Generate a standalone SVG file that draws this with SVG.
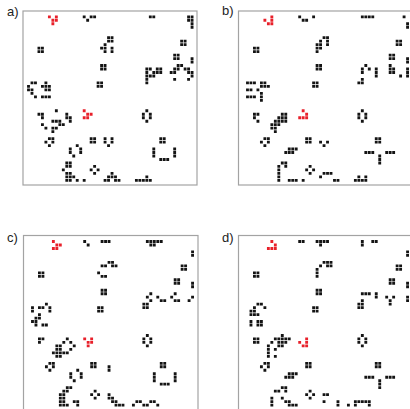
<svg xmlns="http://www.w3.org/2000/svg" width="410" height="409" viewBox="0 0 410 409">
<style>
.frame{fill:none;stroke:#a3a3a3;stroke-width:1.2}
.k{fill:#141414}
.r{fill:#e8202a}
.lbl{font-family:"Liberation Sans",Arial,sans-serif;font-size:13px;fill:#222}
</style>
<defs>
<rect id="c" width=".82" height=".82"/>
</defs>
<rect width="410" height="409" fill="#fff"/>
<text class="lbl" x="7" y="16">a)</text>
<text class="lbl" x="222" y="15">b)</text>
<text class="lbl" x="7" y="242">c)</text>
<text class="lbl" x="222" y="242">d)</text>
<rect class="frame" x="23" y="11" width="174" height="174"/>
<rect class="frame" x="238.5" y="11" width="180" height="174"/>
<rect class="frame" x="23.5" y="235.5" width="174.5" height="180"/>
<rect class="frame" x="238.5" y="235.5" width="180" height="180"/>
<g id="panel-a" transform="translate(23.6,11.9) scale(3.48)">
<path class="k" d="M17 1h.82v.82h-.82zM19 1h.82v.82h-.82zM20 1h.82v.82h-.82zM18 2h.82v.82h-.82zM36 1h.82v.82h-.82zM37 1h.82v.82h-.82zM47 1h.82v.82h-.82zM48 1h.82v.82h-.82zM47 2h.82v.82h-.82zM48 2h.82v.82h-.82zM48 3h.82v.82h-.82zM48 4h.82v.82h-.82zM4 10h.82v.82h-.82zM5 10h.82v.82h-.82zM4 11h.82v.82h-.82zM5 11h.82v.82h-.82zM24 7h.82v.82h-.82zM25 7h.82v.82h-.82zM24 8h.82v.82h-.82zM25 8h.82v.82h-.82zM23 9h.82v.82h-.82zM22 10h.82v.82h-.82zM23 10h.82v.82h-.82zM25 10h.82v.82h-.82zM23 11h.82v.82h-.82zM25 11h.82v.82h-.82zM45 8h.82v.82h-.82zM46 8h.82v.82h-.82zM45 9h.82v.82h-.82zM46 9h.82v.82h-.82zM43 12h.82v.82h-.82zM44 12h.82v.82h-.82zM43 13h.82v.82h-.82zM44 13h.82v.82h-.82zM48 13h.82v.82h-.82zM48 14h.82v.82h-.82zM22 15h.82v.82h-.82zM23 15h.82v.82h-.82zM22 16h.82v.82h-.82zM23 16h.82v.82h-.82zM35 16h.82v.82h-.82zM36 16h.82v.82h-.82zM38 16h.82v.82h-.82zM39 16h.82v.82h-.82zM35 17h.82v.82h-.82zM37 17h.82v.82h-.82zM38 17h.82v.82h-.82zM39 17h.82v.82h-.82zM35 18h.82v.82h-.82zM36 18h.82v.82h-.82zM37 18h.82v.82h-.82zM35 19h.82v.82h-.82zM35 20h.82v.82h-.82zM44 15h.82v.82h-.82zM45 15h.82v.82h-.82zM43 16h.82v.82h-.82zM44 16h.82v.82h-.82zM46 16h.82v.82h-.82zM47 16h.82v.82h-.82zM42 17h.82v.82h-.82zM43 17h.82v.82h-.82zM47 17h.82v.82h-.82zM48 17h.82v.82h-.82zM48 18h.82v.82h-.82zM43 19h.82v.82h-.82zM47 19h.82v.82h-.82zM21 20h.82v.82h-.82zM22 20h.82v.82h-.82zM21 21h.82v.82h-.82zM22 21h.82v.82h-.82zM2 20h.82v.82h-.82zM3 20h.82v.82h-.82zM6 20h.82v.82h-.82zM1 21h.82v.82h-.82zM5 21h.82v.82h-.82zM6 21h.82v.82h-.82zM7 21h.82v.82h-.82zM1 22h.82v.82h-.82zM2 22h.82v.82h-.82zM6 22h.82v.82h-.82zM7 22h.82v.82h-.82zM2 23h.82v.82h-.82zM3 24h.82v.82h-.82zM5 24h.82v.82h-.82zM6 24h.82v.82h-.82zM7 24h.82v.82h-.82zM9 28h.82v.82h-.82zM4 29h.82v.82h-.82zM5 29h.82v.82h-.82zM12 29h.82v.82h-.82zM5 30h.82v.82h-.82zM12 30h.82v.82h-.82zM13 30h.82v.82h-.82zM8 31h.82v.82h-.82zM9 31h.82v.82h-.82zM10 31h.82v.82h-.82zM13 31h.82v.82h-.82zM5 32h.82v.82h-.82zM10 32h.82v.82h-.82zM11 32h.82v.82h-.82zM6 33h.82v.82h-.82zM8 33h.82v.82h-.82zM9 33h.82v.82h-.82zM8 34h.82v.82h-.82zM35 28h.82v.82h-.82zM34 29h.82v.82h-.82zM36 29h.82v.82h-.82zM34 30h.82v.82h-.82zM36 30h.82v.82h-.82zM35 31h.82v.82h-.82zM39 36h.82v.82h-.82zM40 36h.82v.82h-.82zM39 37h.82v.82h-.82zM40 37h.82v.82h-.82zM37 39h.82v.82h-.82zM37 40h.82v.82h-.82zM37 41h.82v.82h-.82zM43 39h.82v.82h-.82zM43 40h.82v.82h-.82zM43 41h.82v.82h-.82zM39 42h.82v.82h-.82zM40 42h.82v.82h-.82zM41 42h.82v.82h-.82zM7 36h.82v.82h-.82zM8 36h.82v.82h-.82zM6 37h.82v.82h-.82zM8 37h.82v.82h-.82zM7 38h.82v.82h-.82zM15 38h.82v.82h-.82zM13 39h.82v.82h-.82zM16 39h.82v.82h-.82zM13 40h.82v.82h-.82zM16 40h.82v.82h-.82zM14 41h.82v.82h-.82zM19 36h.82v.82h-.82zM20 36h.82v.82h-.82zM19 37h.82v.82h-.82zM20 37h.82v.82h-.82zM23 36h.82v.82h-.82zM25 36h.82v.82h-.82zM23 37h.82v.82h-.82zM25 37h.82v.82h-.82zM24 38h.82v.82h-.82zM12 43h.82v.82h-.82zM13 43h.82v.82h-.82zM12 44h.82v.82h-.82zM13 44h.82v.82h-.82zM11 45h.82v.82h-.82zM12 46h.82v.82h-.82zM13 46h.82v.82h-.82zM12 47h.82v.82h-.82zM13 47h.82v.82h-.82zM14 47h.82v.82h-.82zM12 48h.82v.82h-.82zM13 48h.82v.82h-.82zM15 48h.82v.82h-.82zM17 48h.82v.82h-.82zM20 44h.82v.82h-.82zM19 45h.82v.82h-.82zM21 45h.82v.82h-.82zM20 46h.82v.82h-.82zM25 46h.82v.82h-.82zM24 47h.82v.82h-.82zM25 47h.82v.82h-.82zM26 47h.82v.82h-.82zM23 48h.82v.82h-.82zM24 48h.82v.82h-.82zM26 48h.82v.82h-.82zM27 48h.82v.82h-.82zM35 47h.82v.82h-.82zM32 48h.82v.82h-.82zM33 48h.82v.82h-.82zM34 48h.82v.82h-.82zM35 48h.82v.82h-.82zM36 48h.82v.82h-.82z"/>
<path class="r" d="M7 1h.82v.82h-.82zM9 1h.82v.82h-.82zM8 2h.82v.82h-.82zM9 2h.82v.82h-.82zM8 3h.82v.82h-.82zM17 28h.82v.82h-.82zM18 29h.82v.82h-.82zM19 29h.82v.82h-.82zM17 30h.82v.82h-.82zM18 30h.82v.82h-.82z"/>
</g>
<g id="panel-b" transform="translate(239.1,11.9) scale(3.48)">
<path class="k" d="M17 1h.82v.82h-.82zM18 2h.82v.82h-.82zM19 2h.82v.82h-.82zM21 1h.82v.82h-.82zM35 1h.82v.82h-.82zM36 1h.82v.82h-.82zM37 1h.82v.82h-.82zM38 1h.82v.82h-.82zM47 1h.82v.82h-.82zM48 3h.82v.82h-.82zM48 4h.82v.82h-.82zM4 10h.82v.82h-.82zM5 10h.82v.82h-.82zM4 11h.82v.82h-.82zM5 11h.82v.82h-.82zM24 7h.82v.82h-.82zM25 7h.82v.82h-.82zM23 8h.82v.82h-.82zM25 8h.82v.82h-.82zM22 9h.82v.82h-.82zM23 9h.82v.82h-.82zM25 9h.82v.82h-.82zM22 10h.82v.82h-.82zM23 10h.82v.82h-.82zM22 11h.82v.82h-.82zM45 8h.82v.82h-.82zM46 8h.82v.82h-.82zM45 9h.82v.82h-.82zM46 9h.82v.82h-.82zM43 12h.82v.82h-.82zM44 12h.82v.82h-.82zM43 13h.82v.82h-.82zM44 13h.82v.82h-.82zM48 13h.82v.82h-.82zM48 14h.82v.82h-.82zM22 15h.82v.82h-.82zM23 15h.82v.82h-.82zM22 16h.82v.82h-.82zM23 16h.82v.82h-.82zM21 20h.82v.82h-.82zM22 20h.82v.82h-.82zM21 21h.82v.82h-.82zM22 21h.82v.82h-.82zM36 15h.82v.82h-.82zM35 16h.82v.82h-.82zM37 16h.82v.82h-.82zM35 17h.82v.82h-.82zM39 16h.82v.82h-.82zM39 17h.82v.82h-.82zM39 18h.82v.82h-.82zM35 19h.82v.82h-.82zM34 20h.82v.82h-.82zM35 20h.82v.82h-.82zM43 15h.82v.82h-.82zM43 16h.82v.82h-.82zM44 16h.82v.82h-.82zM43 17h.82v.82h-.82zM44 17h.82v.82h-.82zM46 18h.82v.82h-.82zM48 16h.82v.82h-.82zM48 17h.82v.82h-.82zM48 18h.82v.82h-.82zM2 20h.82v.82h-.82zM3 20h.82v.82h-.82zM4 20h.82v.82h-.82zM6 20h.82v.82h-.82zM7 20h.82v.82h-.82zM6 21h.82v.82h-.82zM7 21h.82v.82h-.82zM8 21h.82v.82h-.82zM2 22h.82v.82h-.82zM3 22h.82v.82h-.82zM5 22h.82v.82h-.82zM6 23h.82v.82h-.82zM2 24h.82v.82h-.82zM3 24h.82v.82h-.82zM4 24h.82v.82h-.82zM6 24h.82v.82h-.82zM6 25h.82v.82h-.82zM4 29h.82v.82h-.82zM5 29h.82v.82h-.82zM4 30h.82v.82h-.82zM5 31h.82v.82h-.82zM12 29h.82v.82h-.82zM13 29h.82v.82h-.82zM11 30h.82v.82h-.82zM12 30h.82v.82h-.82zM13 30h.82v.82h-.82zM10 31h.82v.82h-.82zM11 31h.82v.82h-.82zM12 31h.82v.82h-.82zM13 31h.82v.82h-.82zM9 32h.82v.82h-.82zM10 32h.82v.82h-.82zM11 32h.82v.82h-.82zM9 33h.82v.82h-.82zM10 33h.82v.82h-.82zM10 34h.82v.82h-.82zM35 28h.82v.82h-.82zM34 29h.82v.82h-.82zM36 29h.82v.82h-.82zM34 30h.82v.82h-.82zM36 30h.82v.82h-.82zM35 31h.82v.82h-.82zM39 36h.82v.82h-.82zM40 36h.82v.82h-.82zM39 37h.82v.82h-.82zM40 37h.82v.82h-.82zM36 40h.82v.82h-.82zM37 40h.82v.82h-.82zM38 40h.82v.82h-.82zM42 40h.82v.82h-.82zM43 40h.82v.82h-.82zM44 40h.82v.82h-.82zM40 41h.82v.82h-.82zM40 42h.82v.82h-.82zM40 43h.82v.82h-.82zM7 36h.82v.82h-.82zM8 36h.82v.82h-.82zM6 37h.82v.82h-.82zM8 37h.82v.82h-.82zM7 38h.82v.82h-.82zM14 39h.82v.82h-.82zM15 39h.82v.82h-.82zM16 39h.82v.82h-.82zM13 40h.82v.82h-.82zM14 40h.82v.82h-.82zM15 40h.82v.82h-.82zM19 36h.82v.82h-.82zM20 36h.82v.82h-.82zM19 37h.82v.82h-.82zM20 37h.82v.82h-.82zM23 37h.82v.82h-.82zM25 37h.82v.82h-.82zM24 38h.82v.82h-.82zM12 43h.82v.82h-.82zM13 43h.82v.82h-.82zM11 44h.82v.82h-.82zM13 44h.82v.82h-.82zM11 45h.82v.82h-.82zM11 46h.82v.82h-.82zM11 47h.82v.82h-.82zM11 48h.82v.82h-.82zM14 48h.82v.82h-.82zM15 48h.82v.82h-.82zM16 48h.82v.82h-.82zM18 48h.82v.82h-.82zM20 44h.82v.82h-.82zM19 45h.82v.82h-.82zM21 45h.82v.82h-.82zM20 46h.82v.82h-.82zM24 46h.82v.82h-.82zM25 46h.82v.82h-.82zM26 46h.82v.82h-.82zM23 47h.82v.82h-.82zM27 48h.82v.82h-.82zM28 48h.82v.82h-.82zM34 47h.82v.82h-.82zM36 47h.82v.82h-.82zM33 48h.82v.82h-.82zM34 48h.82v.82h-.82zM35 48h.82v.82h-.82zM36 48h.82v.82h-.82z"/>
<path class="r" d="M9 1h.82v.82h-.82zM7 2h.82v.82h-.82zM9 2h.82v.82h-.82zM8 3h.82v.82h-.82zM9 3h.82v.82h-.82zM18 28h.82v.82h-.82zM19 29h.82v.82h-.82zM17 30h.82v.82h-.82zM18 30h.82v.82h-.82zM19 30h.82v.82h-.82z"/>
</g>
<g id="panel-c" transform="translate(24.1,236.6) scale(3.48)">
<path class="k" d="M17 1h.82v.82h-.82zM18 2h.82v.82h-.82zM22 1h.82v.82h-.82zM23 1h.82v.82h-.82zM24 1h.82v.82h-.82zM35 1h.82v.82h-.82zM36 1h.82v.82h-.82zM37 1h.82v.82h-.82zM38 1h.82v.82h-.82zM39 1h.82v.82h-.82zM36 2h.82v.82h-.82zM37 2h.82v.82h-.82zM48 4h.82v.82h-.82zM48 5h.82v.82h-.82zM4 10h.82v.82h-.82zM5 10h.82v.82h-.82zM4 11h.82v.82h-.82zM5 11h.82v.82h-.82zM24 7h.82v.82h-.82zM25 7h.82v.82h-.82zM22 8h.82v.82h-.82zM23 8h.82v.82h-.82zM25 8h.82v.82h-.82zM26 8h.82v.82h-.82zM21 10h.82v.82h-.82zM22 11h.82v.82h-.82zM23 11h.82v.82h-.82zM45 8h.82v.82h-.82zM46 8h.82v.82h-.82zM45 9h.82v.82h-.82zM46 9h.82v.82h-.82zM43 12h.82v.82h-.82zM44 12h.82v.82h-.82zM43 13h.82v.82h-.82zM44 13h.82v.82h-.82zM48 13h.82v.82h-.82zM48 14h.82v.82h-.82zM22 15h.82v.82h-.82zM23 15h.82v.82h-.82zM22 16h.82v.82h-.82zM23 16h.82v.82h-.82zM21 20h.82v.82h-.82zM22 20h.82v.82h-.82zM21 21h.82v.82h-.82zM22 21h.82v.82h-.82zM36 16h.82v.82h-.82zM35 17h.82v.82h-.82zM36 18h.82v.82h-.82zM38 17h.82v.82h-.82zM39 18h.82v.82h-.82zM40 18h.82v.82h-.82zM43 16h.82v.82h-.82zM42 17h.82v.82h-.82zM43 18h.82v.82h-.82zM44 18h.82v.82h-.82zM48 17h.82v.82h-.82zM47 18h.82v.82h-.82zM34 19h.82v.82h-.82zM35 19h.82v.82h-.82zM34 20h.82v.82h-.82zM35 20h.82v.82h-.82zM6 19h.82v.82h-.82zM2 20h.82v.82h-.82zM4 20h.82v.82h-.82zM5 20h.82v.82h-.82zM7 20h.82v.82h-.82zM2 21h.82v.82h-.82zM7 21h.82v.82h-.82zM4 22h.82v.82h-.82zM3 23h.82v.82h-.82zM4 23h.82v.82h-.82zM2 24h.82v.82h-.82zM3 24h.82v.82h-.82zM3 25h.82v.82h-.82zM5 25h.82v.82h-.82zM6 25h.82v.82h-.82zM4 29h.82v.82h-.82zM5 29h.82v.82h-.82zM4 30h.82v.82h-.82zM12 29h.82v.82h-.82zM11 30h.82v.82h-.82zM13 30h.82v.82h-.82zM9 31h.82v.82h-.82zM10 31h.82v.82h-.82zM14 31h.82v.82h-.82zM9 32h.82v.82h-.82zM10 32h.82v.82h-.82zM13 32h.82v.82h-.82zM8 33h.82v.82h-.82zM9 33h.82v.82h-.82zM10 33h.82v.82h-.82zM11 33h.82v.82h-.82zM12 33h.82v.82h-.82zM9 34h.82v.82h-.82zM10 34h.82v.82h-.82zM35 28h.82v.82h-.82zM34 29h.82v.82h-.82zM36 29h.82v.82h-.82zM34 30h.82v.82h-.82zM36 30h.82v.82h-.82zM35 31h.82v.82h-.82zM39 36h.82v.82h-.82zM40 36h.82v.82h-.82zM39 37h.82v.82h-.82zM40 37h.82v.82h-.82zM37 39h.82v.82h-.82zM37 40h.82v.82h-.82zM37 41h.82v.82h-.82zM43 39h.82v.82h-.82zM43 40h.82v.82h-.82zM43 41h.82v.82h-.82zM39 42h.82v.82h-.82zM40 42h.82v.82h-.82zM41 42h.82v.82h-.82zM7 36h.82v.82h-.82zM8 36h.82v.82h-.82zM6 37h.82v.82h-.82zM8 37h.82v.82h-.82zM7 38h.82v.82h-.82zM15 38h.82v.82h-.82zM13 39h.82v.82h-.82zM16 39h.82v.82h-.82zM13 40h.82v.82h-.82zM16 40h.82v.82h-.82zM14 41h.82v.82h-.82zM19 36h.82v.82h-.82zM20 36h.82v.82h-.82zM19 37h.82v.82h-.82zM20 37h.82v.82h-.82zM24 37h.82v.82h-.82zM24 38h.82v.82h-.82zM12 43h.82v.82h-.82zM13 43h.82v.82h-.82zM11 44h.82v.82h-.82zM12 44h.82v.82h-.82zM10 45h.82v.82h-.82zM11 45h.82v.82h-.82zM10 46h.82v.82h-.82zM11 46h.82v.82h-.82zM10 47h.82v.82h-.82zM11 47h.82v.82h-.82zM14 47h.82v.82h-.82zM15 47h.82v.82h-.82zM10 48h.82v.82h-.82zM11 48h.82v.82h-.82zM12 48h.82v.82h-.82zM15 48h.82v.82h-.82zM20 44h.82v.82h-.82zM19 45h.82v.82h-.82zM21 45h.82v.82h-.82zM20 46h.82v.82h-.82zM24 45h.82v.82h-.82zM24 46h.82v.82h-.82zM25 46h.82v.82h-.82zM25 47h.82v.82h-.82zM26 47h.82v.82h-.82zM26 48h.82v.82h-.82zM27 48h.82v.82h-.82zM28 48h.82v.82h-.82zM32 47h.82v.82h-.82zM33 47h.82v.82h-.82zM36 47h.82v.82h-.82zM37 47h.82v.82h-.82zM31 48h.82v.82h-.82zM34 48h.82v.82h-.82zM35 48h.82v.82h-.82zM38 48h.82v.82h-.82z"/>
<path class="r" d="M8 1h.82v.82h-.82zM9 2h.82v.82h-.82zM10 2h.82v.82h-.82zM8 3h.82v.82h-.82zM9 3h.82v.82h-.82zM17 29h.82v.82h-.82zM19 29h.82v.82h-.82zM18 30h.82v.82h-.82zM19 30h.82v.82h-.82zM18 31h.82v.82h-.82z"/>
</g>
<g id="panel-d" transform="translate(239.1,236.6) scale(3.48)">
<path class="k" d="M17 1h.82v.82h-.82zM18 1h.82v.82h-.82zM22 1h.82v.82h-.82zM23 1h.82v.82h-.82zM24 1h.82v.82h-.82zM25 1h.82v.82h-.82zM23 2h.82v.82h-.82zM35 1h.82v.82h-.82zM35 2h.82v.82h-.82zM38 1h.82v.82h-.82zM39 1h.82v.82h-.82zM48 4h.82v.82h-.82zM48 5h.82v.82h-.82zM4 10h.82v.82h-.82zM5 10h.82v.82h-.82zM4 11h.82v.82h-.82zM5 11h.82v.82h-.82zM24 7h.82v.82h-.82zM25 7h.82v.82h-.82zM26 7h.82v.82h-.82zM23 8h.82v.82h-.82zM25 8h.82v.82h-.82zM26 8h.82v.82h-.82zM22 9h.82v.82h-.82zM22 10h.82v.82h-.82zM22 11h.82v.82h-.82zM45 8h.82v.82h-.82zM46 8h.82v.82h-.82zM45 9h.82v.82h-.82zM46 9h.82v.82h-.82zM43 12h.82v.82h-.82zM44 12h.82v.82h-.82zM43 13h.82v.82h-.82zM44 13h.82v.82h-.82zM48 13h.82v.82h-.82zM48 14h.82v.82h-.82zM22 15h.82v.82h-.82zM23 15h.82v.82h-.82zM22 16h.82v.82h-.82zM23 16h.82v.82h-.82zM21 20h.82v.82h-.82zM22 20h.82v.82h-.82zM21 21h.82v.82h-.82zM22 21h.82v.82h-.82zM35 16h.82v.82h-.82zM36 16h.82v.82h-.82zM37 16h.82v.82h-.82zM39 16h.82v.82h-.82zM39 17h.82v.82h-.82zM35 18h.82v.82h-.82zM34 19h.82v.82h-.82zM35 19h.82v.82h-.82zM34 20h.82v.82h-.82zM35 20h.82v.82h-.82zM42 17h.82v.82h-.82zM44 17h.82v.82h-.82zM43 18h.82v.82h-.82zM43 19h.82v.82h-.82zM48 17h.82v.82h-.82zM48 18h.82v.82h-.82zM5 19h.82v.82h-.82zM6 19h.82v.82h-.82zM4 20h.82v.82h-.82zM7 20h.82v.82h-.82zM3 21h.82v.82h-.82zM4 21h.82v.82h-.82zM3 22h.82v.82h-.82zM4 22h.82v.82h-.82zM5 22h.82v.82h-.82zM3 24h.82v.82h-.82zM3 25h.82v.82h-.82zM5 24h.82v.82h-.82zM6 24h.82v.82h-.82zM5 25h.82v.82h-.82zM6 25h.82v.82h-.82zM4 29h.82v.82h-.82zM5 29h.82v.82h-.82zM4 30h.82v.82h-.82zM5 30h.82v.82h-.82zM12 28h.82v.82h-.82zM10 29h.82v.82h-.82zM11 29h.82v.82h-.82zM12 29h.82v.82h-.82zM13 29h.82v.82h-.82zM14 29h.82v.82h-.82zM9 30h.82v.82h-.82zM11 30h.82v.82h-.82zM12 30h.82v.82h-.82zM13 30h.82v.82h-.82zM8 31h.82v.82h-.82zM11 31h.82v.82h-.82zM12 31h.82v.82h-.82zM8 32h.82v.82h-.82zM10 32h.82v.82h-.82zM8 33h.82v.82h-.82zM8 34h.82v.82h-.82zM10 34h.82v.82h-.82zM35 28h.82v.82h-.82zM34 29h.82v.82h-.82zM36 29h.82v.82h-.82zM34 30h.82v.82h-.82zM36 30h.82v.82h-.82zM35 31h.82v.82h-.82zM39 36h.82v.82h-.82zM40 36h.82v.82h-.82zM39 37h.82v.82h-.82zM40 37h.82v.82h-.82zM36 40h.82v.82h-.82zM37 40h.82v.82h-.82zM38 40h.82v.82h-.82zM42 40h.82v.82h-.82zM43 40h.82v.82h-.82zM44 40h.82v.82h-.82zM40 41h.82v.82h-.82zM40 42h.82v.82h-.82zM40 43h.82v.82h-.82zM7 36h.82v.82h-.82zM8 36h.82v.82h-.82zM6 37h.82v.82h-.82zM8 37h.82v.82h-.82zM7 38h.82v.82h-.82zM14 39h.82v.82h-.82zM15 39h.82v.82h-.82zM16 39h.82v.82h-.82zM13 40h.82v.82h-.82zM14 40h.82v.82h-.82zM15 40h.82v.82h-.82zM19 36h.82v.82h-.82zM20 36h.82v.82h-.82zM19 37h.82v.82h-.82zM20 37h.82v.82h-.82zM12 43h.82v.82h-.82zM13 43h.82v.82h-.82zM10 44h.82v.82h-.82zM11 44h.82v.82h-.82zM13 44h.82v.82h-.82zM9 46h.82v.82h-.82zM12 46h.82v.82h-.82zM9 47h.82v.82h-.82zM9 48h.82v.82h-.82zM13 47h.82v.82h-.82zM14 47h.82v.82h-.82zM14 48h.82v.82h-.82zM15 48h.82v.82h-.82zM16 48h.82v.82h-.82zM20 44h.82v.82h-.82zM19 45h.82v.82h-.82zM21 45h.82v.82h-.82zM20 46h.82v.82h-.82zM24 45h.82v.82h-.82zM25 45h.82v.82h-.82zM24 47h.82v.82h-.82zM28 47h.82v.82h-.82zM28 48h.82v.82h-.82zM31 48h.82v.82h-.82zM33 47h.82v.82h-.82zM34 47h.82v.82h-.82zM35 47h.82v.82h-.82zM36 47h.82v.82h-.82zM37 47h.82v.82h-.82zM33 48h.82v.82h-.82zM37 48h.82v.82h-.82z"/>
<path class="r" d="M9 1h.82v.82h-.82zM10 2h.82v.82h-.82zM8 3h.82v.82h-.82zM9 3h.82v.82h-.82zM10 3h.82v.82h-.82zM19 29h.82v.82h-.82zM17 30h.82v.82h-.82zM19 30h.82v.82h-.82zM18 31h.82v.82h-.82zM19 31h.82v.82h-.82z"/>
</g>
</svg>
